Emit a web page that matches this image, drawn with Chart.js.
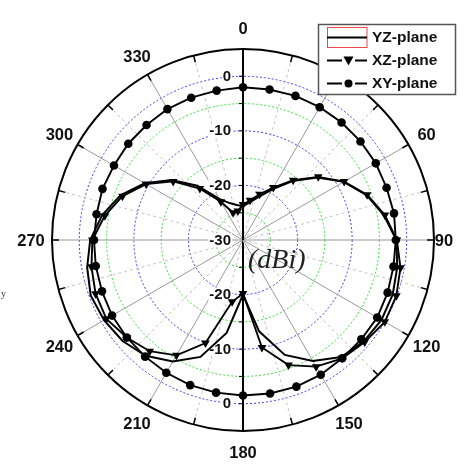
<!DOCTYPE html>
<html><head><meta charset="utf-8">
<script src="https://cdn.jsdelivr.net/npm/chart.js@4.4.1/dist/chart.umd.min.js"></script>
<style>html,body{margin:0;padding:0;background:#fff;overflow:hidden}</style>
</head><body>
<canvas id="c" width="466" height="465"></canvas>
<script>
// ---- data (angles in degrees, clockwise from top; values in dBi) ----
const angles = [0,10,20,30,40,50,60,70,80,90,100,110,120,130,140,150,160,170,180,190,200,210,220,230,240,250,260,270,280,290,300,310,320,330,340,350];
const seriesNames = ['YZ-plane','XZ-plane','XY-plane'];
const yzPlane = [-23.8,-23.0,-21.6,-19.3,-15.9,-12.2,-8.7,-5.9,-3.8,-1.9,-1.3,-0.8,-0.7,-1.1,-2.0,-4.4,-7.6,-13.0,-20.0,-12.7,-7.2,-4.3,-2.3,-1.2,-0.6,-0.3,-1.0,-2.0,-3.8,-6.1,-9.2,-12.9,-17.0,-21.3,-22.8,-23.5];
const xzPlane = [-23.5,-22.6,-21.1,-18.9,-15.7,-12.0,-8.6,-5.8,-3.6,-1.8,-0.7,-0.1,0.0,-0.9,-1.7,-3.2,-5.6,-10.0,-20.2,-18.5,-9.9,-5.6,-3.4,-2.2,-1.1,-1.25,-1.8,-2.4,-4.3,-6.5,-9.5,-13.3,-17.7,-21.9,-24.7,-24.6];
const xyPlane = [-2.0,-2.0,-1.9,-1.9,-1.9,-1.9,-1.9,-2.0,-1.9,-2.0,-2.0,-1.8,-1.6,-1.7,-1.7,-1.5,-1.4,-1.45,-1.5,-1.6,-1.7,-1.9,-2.1,-2.2,-2.3,-2.5,-2.6,-2.7,-2.75,-2.6,-2.7,-2.55,-2.5,-2.3,-2.25,-2.2];
const spokeAngles = Array.from({length:72},(_,i)=>i*5);          // category axis (5 deg spokes)
const angleTickLabels = [0,30,60,90,120,150,180,210,240,270,300,330];
const radialTickLabels = [-30,-20,-10,0];
const rMin = -30, rMax = 5, rStep = 5;
const unitText = '(dBi)';

function onSpokes(vals){ return spokeAngles.map(a => { const k = angles.indexOf(a); return k>=0 ? vals[k] : null; }); }

const overlay = {
  id:'overlay',
  beforeDatasetsDraw(chart){
    const s = chart.scales.r, ctx = chart.ctx;
    const R = s.getDistanceFromCenterForValue(rMax);
    ctx.save();
    // outer-circle ticks
    ctx.strokeStyle='#000'; ctx.lineWidth=1.5;
    spokeAngles.forEach((a,i)=>{ if(a%15) return;
      const p1=s.getPointPosition(i,R), p2=s.getPointPosition(i,R-7);
      ctx.beginPath(); ctx.moveTo(p1.x,p1.y); ctx.lineTo(p2.x,p2.y); ctx.stroke(); });
    // axis minor ticks
    ctx.lineWidth=1;
    for(let v=rMin+rStep; v<rMax; v+=rStep){
      const d=s.getDistanceFromCenterForValue(v);
      [-1,1].forEach(dir=>{ ctx.beginPath(); ctx.moveTo(s.xCenter-4,s.yCenter+dir*d); ctx.lineTo(s.xCenter,s.yCenter+dir*d); ctx.stroke(); });
    }
    // radial tick labels (top and bottom)
    ctx.font='bold 15px "Liberation Sans"'; ctx.textAlign='right'; ctx.textBaseline='middle';
    radialTickLabels.forEach(v=>{
      const d=s.getDistanceFromCenterForValue(v);
      (d===0?[-1]:[-1,1]).forEach(dir=>{
        const y=s.yCenter+dir*d, x=s.xCenter-12, t=String(v), w=ctx.measureText(t).width;
        ctx.fillStyle='#fff'; ctx.fillRect(x-w-1,y-7,w+2,14);
        ctx.fillStyle='#111'; ctx.fillText(t,x,y+0.5);
      });
    });
    ctx.restore();
  },
  afterDraw(chart){
    const s = chart.scales.r, ctx = chart.ctx;
    const R = s.getDistanceFromCenterForValue(rMax);
    ctx.save();
    // angular labels
    ctx.font='bold 16.5px "Liberation Sans"'; ctx.textAlign='center'; ctx.textBaseline='middle'; ctx.fillStyle='#111';
    angleTickLabels.forEach(a=>{
      const i=spokeAngles.indexOf(a);
      const p=s.getPointPosition(i, a===90 ? R+10 : R+21);
      ctx.fillText(String(a),p.x,p.y+1);
    });
    // unit text
    ctx.font='italic 28px "Liberation Serif"'; ctx.textAlign='left'; ctx.textBaseline='alphabetic'; ctx.fillStyle='#222';
    ctx.fillText(unitText, s.xCenter+5, s.yCenter+28);
    // stray fragment at left edge
    ctx.font='10px "Liberation Serif"'; ctx.fillStyle='#333'; ctx.fillText('y',1,297);
    // legend
    const bx=318.5, by=24.5, bw=137, bh=70;
    ctx.fillStyle='#fff'; ctx.fillRect(bx,by,bw,bh);
    ctx.strokeStyle='#555'; ctx.lineWidth=1.5; ctx.strokeRect(bx,by,bw,bh);
    const rows=[37.5,60.5,83.5];
    ctx.font='bold 15.5px "Liberation Sans"'; ctx.textBaseline='middle'; ctx.textAlign='left';
    chart.data.datasets.forEach((ds,k)=>{
      const y=rows[k];
      ctx.strokeStyle='#000'; ctx.fillStyle='#000'; ctx.lineWidth=2;
      if(k===0){
        ctx.save(); ctx.strokeStyle='#f04848'; ctx.lineWidth=1; ctx.strokeRect(327.5,y-10,39.5,20); ctx.restore();
        ctx.beginPath(); ctx.moveTo(327,y); ctx.lineTo(367,y); ctx.stroke();
      } else {
        ctx.beginPath(); ctx.moveTo(327,y); ctx.lineTo(342,y); ctx.moveTo(355,y); ctx.lineTo(367,y); ctx.stroke();
        ctx.beginPath();
        if(ds.pointStyle==='triangle'){ ctx.moveTo(343.5,y-4); ctx.lineTo(353.5,y-4); ctx.lineTo(348.5,y+5); ctx.closePath(); }
        else { ctx.arc(348.5,y,4,0,Math.PI*2); }
        ctx.fill();
      }
      ctx.fillStyle='#111'; ctx.fillText(ds.label,372,y+0.5);
    });
    ctx.restore();
  }
};

new Chart(document.getElementById('c'),{
  type:'radar',
  data:{
    labels: spokeAngles.map(String),
    datasets:[
      {label:seriesNames[0], data:onSpokes(yzPlane), borderColor:'#000', borderWidth:2, pointRadius:0, pointHoverRadius:0, fill:false, spanGaps:true},
      {label:seriesNames[1], data:onSpokes(xzPlane), borderColor:'#000', borderWidth:1.9, pointStyle:'triangle', pointRotation:180, pointRadius:5, backgroundColor:'#000', pointBackgroundColor:'#000', pointBorderColor:'#000', pointBorderWidth:0, fill:false, spanGaps:true},
      {label:seriesNames[2], data:onSpokes(xyPlane), borderColor:'#000', borderWidth:1.9, pointStyle:'circle', pointRadius:4.3, backgroundColor:'#000', pointBackgroundColor:'#000', pointBorderColor:'#000', pointBorderWidth:0, fill:false, spanGaps:true}
    ]
  },
  options:{
    responsive:false, animation:false, devicePixelRatio:1,
    layout:{padding:{left:52,right:32,top:49,bottom:34}},
    elements:{line:{tension:0}},
    plugins:{legend:{display:false}, tooltip:{enabled:false}},
    scales:{r:{
      min:rMin, max:rMax, startAngle:0,
      ticks:{display:false, stepSize:rStep},
      pointLabels:{display:false},
      grid:{circular:true,
        color:(c)=>{ const v=c.tick.value; if(v>=rMax) return '#000'; return (Math.round(v)%10===0)?'#3b3bff':'#33dd33'; },
        lineWidth:(c)=> c.tick.value>=rMax ? 2 : 1},
      border:{dash:(c)=> (c.tick && c.tick.value>=rMax) ? [] : [2,2]},
      angleLines:{
        color:(c)=>{ const a=spokeAngles[c.index]; if(a===0||a===180) return '#000'; if(a%30===0) return '#999'; if(a%15===0) return '#c4c4c4'; return 'rgba(0,0,0,0)'; },
        lineWidth:(c)=>{ const a=spokeAngles[c.index]; if(a===0||a===180) return 2; return a%15===0 ? 1 : 0; },
        borderDash:(c)=>{ const a=spokeAngles[c.index]; return (a%30===0) ? [] : [3,3]; }
      }
    }}
  },
  plugins:[overlay]
});
</script>
</body></html>
